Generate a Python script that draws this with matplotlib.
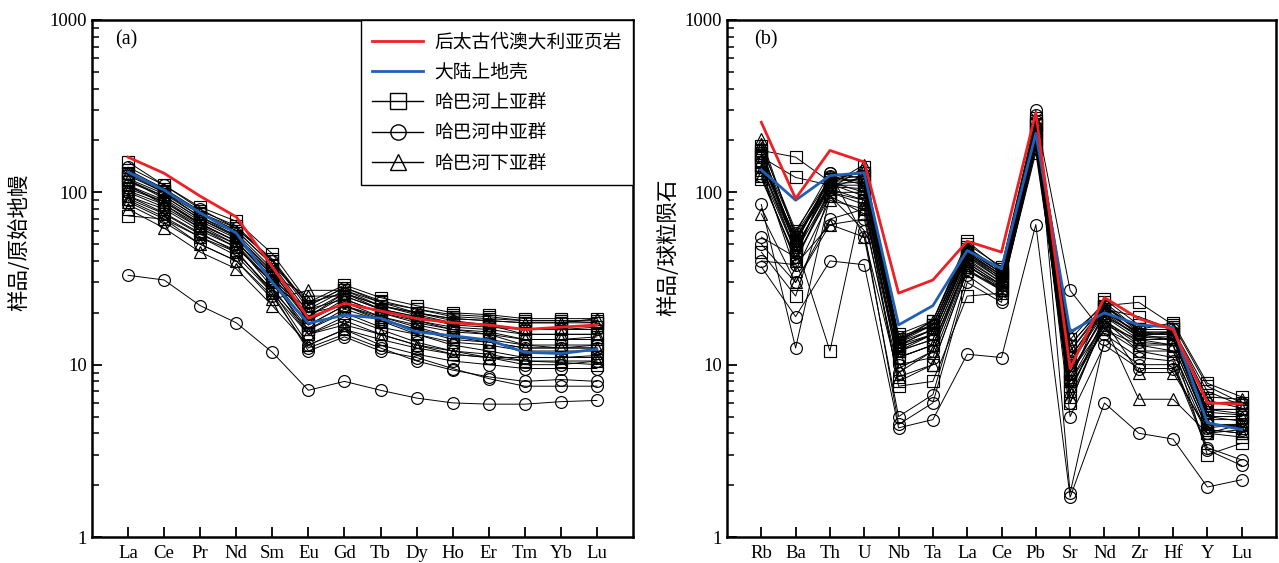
import matplotlib
matplotlib.use("Agg")
import matplotlib.pyplot as plt
import matplotlib.ticker as mticker
from matplotlib.lines import Line2D

# ---------------- data ----------------
ree = ["La", "Ce", "Pr", "Nd", "Sm", "Eu", "Gd", "Tb", "Dy", "Ho", "Er", "Tm", "Yb", "Lu"]
paas_ree = [160, 129, 95, 72, 37, 18.6, 22.7, 20.5, 18.5, 17.5, 17.0, 16.0, 16.5, 17.0]
ucc_ree = [131, 103, 76, 58, 30, 17.4, 19.4, 18.6, 15.5, 14.7, 13.9, 11.8, 11.6, 12.3]

upper_ree = [
    [150, 110, 82, 68, 44, 23, 29, 24.5, 22, 20, 19.5, 18.5, 18.5, 18.5],
    [135, 105, 78, 64, 40, 21, 27, 23, 21, 19, 18.5, 18, 18, 18],
    [125, 100, 75, 60, 38, 20, 26, 22, 20, 18.5, 18, 17.5, 17.5, 17.5],
    [115, 95, 70, 56, 35, 18, 24, 20, 18, 16.5, 16, 15, 15, 15],
    [105, 88, 66, 52, 32, 17, 22, 19, 17, 15.5, 15, 14, 14, 14],
    [95, 80, 60, 48, 30, 16, 21, 18, 16, 14.5, 14, 13, 13, 13],
    [73, 70, 55, 45, 27, 16, 20, 16.5, 15, 13.5, 13, 12, 12, 12],
    [110, 85, 62, 50, 28, 15, 18, 15, 13, 12, 11.5, 10.5, 10.3, 10.0],
    [120, 98, 72, 58, 36, 19, 25, 21, 19, 17.5, 17, 16, 16, 16.5],
    [130, 102, 76, 62, 41, 22, 28, 23.5, 21, 19.5, 19, 18, 18, 17.5],
]
middle_ree = [
    [33, 31, 22, 17.5, 11.8, 7.1, 8.0, 7.1, 6.4, 6.0, 5.9, 5.9, 6.1, 6.2],
    [85, 67, 50, 40, 25, 12.5, 15, 12.5, 10.5, 9.3, 8.5, 8.0, 8.2, 8.0],
    [90, 72, 55, 43, 26, 12, 14.5, 12, 11, 9.5, 8.3, 7.5, 7.5, 7.5],
    [128, 100, 72, 56, 34, 19, 26, 21, 18, 16, 15, 13, 12.5, 12.5],
    [100, 82, 62, 48, 30, 17, 22, 18, 15, 13, 12, 11, 11, 11],
    [110, 90, 66, 52, 31, 15, 19, 16, 13.5, 12, 11, 10, 10, 10.5],
    [140, 110, 80, 62, 40, 22, 28, 23, 20, 18, 17, 16, 16, 16],
    [95, 76, 58, 45, 27, 13, 16, 13, 11.5, 10.5, 10, 9.5, 9.5, 9.5],
    [118, 92, 68, 54, 33, 18, 23, 19, 16.5, 14.5, 13.5, 12.5, 12.5, 13],
]
lower_ree = [
    [80, 62, 45, 36, 22, 13, 16, 14, 12.5, 11.5, 11, 10.5, 10.5, 10.5],
    [88, 70, 50, 40, 24, 27, 27, 22, 20, 18.5, 18, 17.5, 17.5, 18.5],
    [118, 95, 70, 55, 33, 25, 25, 21, 19, 17, 16.5, 16, 16.5, 17],
    [102, 85, 64, 50, 30, 20, 22, 18.5, 16, 14, 13.5, 12.5, 12.5, 12.5],
    [130, 105, 76, 60, 38, 23, 26, 22, 19.5, 17.5, 17, 15, 15, 15],
    [92, 75, 57, 46, 26, 15, 17, 15, 13, 11.5, 11, 11, 11, 11.3],
    [108, 88, 65, 52, 31, 21, 24, 20, 17.5, 16, 15.5, 14, 14, 14.5],
]

trace = ["Rb", "Ba", "Th", "U", "Nb", "Ta", "La", "Ce", "Pb", "Sr", "Nd", "Zr", "Hf", "Y", "Lu"]
paas_tr = [255, 92, 175, 150, 26, 31, 52, 45, 290, 9.5, 24.5, 18.5, 16, 6.0, 5.9]
ucc_tr = [135, 90, 125, 130, 17, 22, 46, 36, 220, 15.5, 20, 17, 16.5, 4.6, 4.2]

upper_tr = [
    [175, 160, 115, 120, 14, 17, 48, 35, 250, 12, 22, 23, 17, 7.5, 6.0],
    [160, 122, 110, 110, 13, 16, 45, 33, 230, 10, 21, 19, 16, 7.0, 5.8],
    [150, 55, 105, 140, 13.5, 18, 50, 37, 270, 8, 24, 17, 16.5, 5.0, 5.0],
    [140, 50, 12, 100, 12, 14, 40, 30, 200, 7, 19, 15, 14, 4.5, 4.5],
    [45, 25, 100, 90, 7.5, 8, 25, 26, 180, 9, 17, 14, 13, 3.0, 3.5],
    [130, 45, 100, 85, 11, 13, 38, 28, 190, 6, 18, 13, 12, 4.2, 4.0],
    [185, 60, 120, 130, 15, 18, 52, 36, 260, 14, 23, 16, 17.5, 7.8, 6.5],
    [165, 48, 108, 105, 12.5, 15, 42, 31, 220, 8.5, 20, 15.5, 15, 5.5, 5.2],
    [120, 42, 95, 75, 8, 10, 35, 27, 170, 7.5, 16, 12, 11, 4.0, 3.8],
    [170, 52, 118, 125, 14.5, 17, 47, 34, 245, 11, 21.5, 16, 16, 6.2, 5.6],
    [145, 46, 112, 95, 12, 15, 43, 32, 215, 9, 19.5, 14.5, 14.5, 5.0, 4.7],
]
middle_tr = [
    [37, 19, 40, 38, 4.3, 4.8, 11.5, 11, 65, 1.7, 6, 4, 3.7, 1.95, 2.15],
    [85, 12.5, 95, 60, 4.5, 6, 30, 23, 300, 1.8, 14, 10, 10, 3.2, 2.6],
    [55, 42, 130, 55, 5.0, 6.7, 33, 24, 280, 27, 15, 11, 10.5, 3.3, 2.8],
    [50, 30, 70, 80, 10, 11, 36, 27, 220, 5, 13, 9.5, 9.5, 4.0, 4.2],
    [150, 50, 125, 110, 13, 15, 44, 33, 240, 11, 21, 15, 15.5, 5.5, 5.5],
    [170, 58, 130, 120, 14, 17, 46, 34, 260, 13, 22, 16, 16, 6.0, 6.0],
    [40, 38, 65, 70, 9, 12, 39, 29, 200, 6.0, 18, 12, 12, 4.3, 4.5],
    [140, 45, 115, 100, 12, 14, 41, 30, 210, 9, 19, 14, 14, 4.8, 4.8],
    [160, 53, 122, 115, 13.5, 16, 45, 33, 235, 10.5, 20.5, 15, 15, 5.3, 5.1],
    [125, 40, 105, 90, 11, 13, 39, 29, 195, 8, 18, 13.5, 13, 4.5, 4.4],
]
lower_tr = [
    [205, 55, 110, 145, 14, 18, 48, 35, 250, 15, 22, 16, 16, 6.5, 6.3],
    [75, 30, 65, 55, 8.5, 10, 35, 28, 190, 6.5, 17, 6.3, 6.3, 4.0, 4.5],
    [125, 40, 100, 100, 9.5, 12, 37, 29, 200, 7, 18, 9, 9, 4.2, 4.0],
    [155, 52, 112, 115, 13, 16, 44, 32, 240, 10, 20, 14.5, 14, 5.0, 5.0],
    [180, 48, 105, 125, 12.5, 15, 43, 31, 230, 12, 21, 15, 15, 5.5, 5.5],
    [135, 35, 90, 80, 11, 13, 38, 27, 180, 8, 16, 13, 13, 4.5, 4.3],
    [190, 57, 115, 135, 13.5, 17, 46, 34, 255, 13, 22, 15.5, 15.5, 6.0, 6.1],
]

legend_labels = ["后太古代澳大利亚页岩", "大陆上地壳", "哈巴河上亚群", "哈巴河中亚群", "哈巴河下亚群"]
ylabels = ["样品/原始地幔", "样品/球粒陨石"]
panel_tags = ["(a)", "(b)"]

# ---------------- style ----------------
plt.rcParams["font.family"] = ["Liberation Serif", "DejaVu Serif"]
cjk = ["Noto Sans CJK SC", "DejaVu Sans"]
RED = "#ee2024"
BLUE = "#1f5fb4"
mstyle = dict(color="black", lw=0.7, ms=8.5, mfc="none", mec="black", mew=0.85)

fig = plt.figure(figsize=(12.79, 5.63), dpi=100)
axa = fig.add_axes([92 / 1279, 1 - 537 / 563, 541 / 1279, 517 / 563])
axb = fig.add_axes([727 / 1279, 1 - 537 / 563, 549 / 1279, 517 / 563])


def draw(ax, cats, groups, paas, ucc):
    x = list(range(len(cats)))
    for rows, mk in zip(groups, ["s", "o", "^"]):
        for r in rows:
            ax.plot(x, r, marker=mk, **mstyle)
    ax.plot(x, ucc, color=BLUE, lw=2.0, zorder=5)
    ax.plot(x, paas, color=RED, lw=2.0, zorder=6)
    ax.set_yscale("log")
    ax.set_ylim(1, 1000)
    ax.set_xlim(-1, len(cats))
    ax.set_xticks(x)
    ax.set_xticklabels(cats, fontsize=13.5)
    ax.yaxis.set_major_formatter(mticker.FuncFormatter(lambda v, p: f"{v:g}"))
    ax.yaxis.set_minor_formatter(mticker.NullFormatter())
    ax.tick_params(axis="both", which="major", direction="in", length=7, width=1.3,
                   labelsize=13.5, top=False, right=False)
    ax.tick_params(axis="y", which="minor", direction="in", length=5, width=1.1, right=False)
    ax.tick_params(axis="x", which="major", pad=6)
    for s in ax.spines.values():
        s.set_linewidth(1.8)


draw(axa, ree, [upper_ree, middle_ree, lower_ree], paas_ree, ucc_ree)
draw(axb, trace, [upper_tr, middle_tr, lower_tr], paas_tr, ucc_tr)

axa.text(0.042, 0.962, panel_tags[0], transform=axa.transAxes, fontsize=14.5, va="center")
axb.text(0.05, 0.962, panel_tags[1], transform=axb.transAxes, fontsize=14.5, va="center")

fig.text(19 / 1279, 0.57, ylabels[0], rotation=90, fontsize=15.5, family=cjk,
         ha="center", va="center")
fig.text(668 / 1279, 0.56, ylabels[1], rotation=90, fontsize=15.5, family=cjk,
         ha="center", va="center")

handles = [
    Line2D([], [], color=RED, lw=2.0),
    Line2D([], [], color=BLUE, lw=2.0),
    Line2D([], [], marker="s", **mstyle),
    Line2D([], [], marker="o", **mstyle),
    Line2D([], [], marker="^", **mstyle),
]
for h in handles[2:]:
    h.set_linewidth(1.0)
    h.set_markersize(11)
    h.set_markeredgewidth(1.0)
leg = axa.legend(handles, legend_labels, loc="upper right", prop={"family": cjk, "size": 13.5},
                 frameon=True, fancybox=False, edgecolor="black", framealpha=1,
                 borderaxespad=0, handlelength=2.7, labelspacing=0.5, borderpad=0.6,
                 handletextpad=0.6)
leg.get_frame().set_linewidth(1.0)

fig.savefig("out.png", dpi=100)
